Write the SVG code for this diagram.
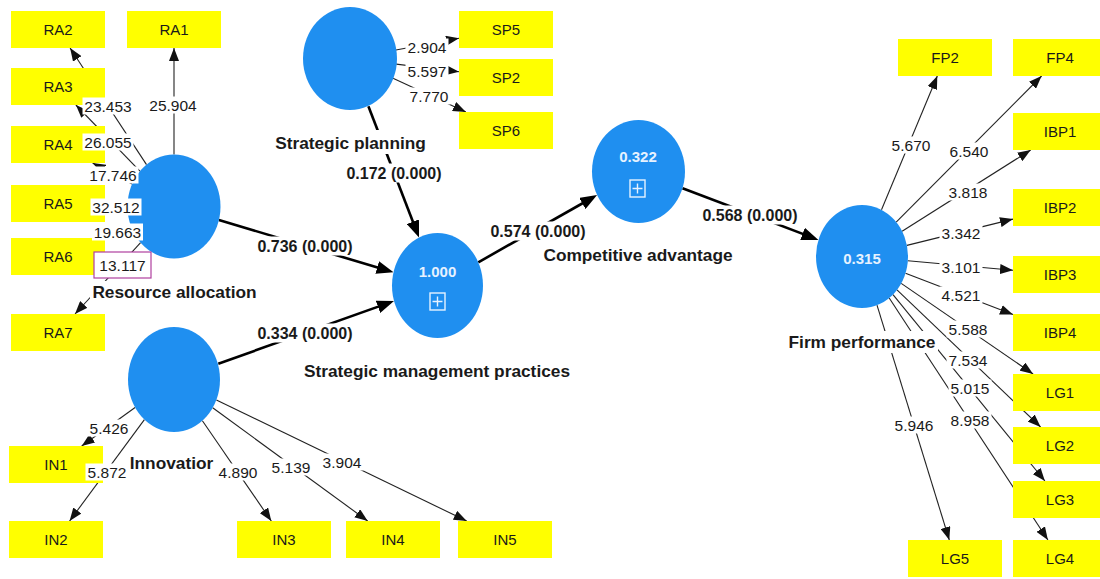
<svg xmlns="http://www.w3.org/2000/svg" width="1100" height="579" viewBox="0 0 1100 579">
<style>
.ind{fill:#ffff00}
.it{font-family:"Liberation Sans",Arial,sans-serif;font-size:15px;fill:#1a1a1a;text-anchor:middle}
.lv{fill:#1f8ff0}
.cap{font-family:"Liberation Sans",Arial,sans-serif;font-size:17.3px;font-weight:bold;fill:#1a1a1a;text-anchor:middle}
.val{font-family:"Liberation Sans",Arial,sans-serif;font-size:15px;font-weight:bold;fill:#e6f2ff;text-anchor:middle}
.icon{fill:none;stroke:#e6f2ff;stroke-width:1.4}
.bg{fill:#ffffff}
.il{stroke:#222;stroke-width:1.1;fill:none;marker-end:url(#a1)}
.pl{stroke:#000;stroke-width:2.6;fill:none;marker-end:url(#a2)}
.nl{font-family:"Liberation Sans",Arial,sans-serif;font-size:15.5px;fill:#1a1a1a;text-anchor:middle}
.pn{font-family:"Liberation Sans",Arial,sans-serif;font-size:16px;font-weight:bold;fill:#1a1a1a;text-anchor:middle}
</style>
<defs>
<marker id="a1" viewBox="0 0 13 10" refX="13" refY="5" markerWidth="13" markerHeight="10" markerUnits="userSpaceOnUse" orient="auto"><path d="M0,0L13,5L0,10z" fill="#111"/></marker>
<marker id="a2" viewBox="0 0 17 13" refX="10" refY="6.5" markerWidth="17" markerHeight="13" markerUnits="userSpaceOnUse" orient="auto"><path d="M0,0L17,6.5L0,13z" fill="#000"/></marker>
</defs>
<rect width="1100" height="579" fill="#ffffff"/>

<g id="connectors">
<line class="il" x1="174" y1="154.5" x2="174" y2="48"/>
<line class="il" x1="146.5" y1="164.6" x2="70.1" y2="48"/>
<line class="il" x1="139.9" y1="171.2" x2="75.9" y2="105"/>
<line class="il" x1="132" y1="184.1" x2="92.6" y2="163"/>
<line class="il" x1="127.6" y1="205.3" x2="105" y2="204.7"/>
<line class="il" x1="130.6" y1="225.2" x2="100.9" y2="238"/>
<line class="il" x1="140.6" y1="242.7" x2="75" y2="314"/>
<line class="il" x1="395.9" y1="50" x2="459" y2="38.2"/>
<line class="il" x1="396.2" y1="64.1" x2="459" y2="71.8"/>
<line class="il" x1="393" y1="78.3" x2="465.9" y2="112"/>
<line class="il" x1="135.1" y1="407.5" x2="81.7" y2="446"/>
<line class="il" x1="144.4" y1="419.7" x2="69.6" y2="521"/>
<line class="il" x1="202.4" y1="420.8" x2="271.3" y2="521"/>
<line class="il" x1="212.7" y1="407.8" x2="367.7" y2="521"/>
<line class="il" x1="216.4" y1="400" x2="466.7" y2="521"/>
<line class="il" x1="881.5" y1="209.8" x2="937.3" y2="76"/>
<line class="il" x1="896.2" y1="222.1" x2="1041.6" y2="76"/>
<line class="il" x1="902.1" y1="231.2" x2="1030.7" y2="150"/>
<line class="il" x1="906.9" y1="245.4" x2="1013" y2="219.1"/>
<line class="il" x1="907.8" y1="260.7" x2="1013" y2="270.2"/>
<line class="il" x1="905.5" y1="273.2" x2="1013" y2="314.5"/>
<line class="il" x1="901.2" y1="283.4" x2="1033.1" y2="374"/>
<line class="il" x1="897" y1="289.9" x2="1040.6" y2="427"/>
<line class="il" x1="893" y1="294.6" x2="1044.9" y2="481"/>
<line class="il" x1="889.2" y1="298" x2="1047.9" y2="540"/>
<line class="il" x1="877" y1="305.2" x2="949.3" y2="540"/>
<line class="pl" x1="218.9" y1="220" x2="386.8" y2="270.3"/>
<line class="pl" x1="218.3" y1="363.7" x2="387.4" y2="303.4"/>
<line class="pl" x1="368.4" y1="106.3" x2="416.5" y2="231"/>
<line class="pl" x1="478.3" y1="262.3" x2="591" y2="198.5"/>
<line class="pl" x1="682.5" y1="188.2" x2="811.9" y2="237.4"/>
</g>

<g id="RA1"><rect class="ind" x="127" y="11" width="94" height="37"/><text class="it" x="174" y="34.9">RA1</text></g>
<g id="RA2"><rect class="ind" x="11" y="11" width="94" height="37"/><text class="it" x="58" y="34.9">RA2</text></g>
<g id="RA3"><rect class="ind" x="11" y="68" width="94" height="37"/><text class="it" x="58" y="91.9">RA3</text></g>
<g id="RA4"><rect class="ind" x="11" y="126" width="94" height="37"/><text class="it" x="58" y="149.9">RA4</text></g>
<g id="RA5"><rect class="ind" x="11" y="185" width="94" height="37"/><text class="it" x="58" y="208.9">RA5</text></g>
<g id="RA6"><rect class="ind" x="11" y="238" width="94" height="37"/><text class="it" x="58" y="261.9">RA6</text></g>
<g id="RA7"><rect class="ind" x="11" y="314" width="94" height="37"/><text class="it" x="58" y="337.9">RA7</text></g>
<g id="IN1"><rect class="ind" x="9" y="446" width="94" height="37"/><text class="it" x="56" y="469.9">IN1</text></g>
<g id="IN2"><rect class="ind" x="9" y="521" width="94" height="37"/><text class="it" x="56" y="544.9">IN2</text></g>
<g id="IN3"><rect class="ind" x="237" y="521" width="94" height="37"/><text class="it" x="284" y="544.9">IN3</text></g>
<g id="IN4"><rect class="ind" x="346" y="521" width="94" height="37"/><text class="it" x="393" y="544.9">IN4</text></g>
<g id="IN5"><rect class="ind" x="458" y="521" width="94" height="37"/><text class="it" x="505" y="544.9">IN5</text></g>
<g id="SP5"><rect class="ind" x="459" y="11" width="94" height="37"/><text class="it" x="506" y="34.9">SP5</text></g>
<g id="SP2"><rect class="ind" x="459" y="59" width="94" height="37"/><text class="it" x="506" y="82.9">SP2</text></g>
<g id="SP6"><rect class="ind" x="459" y="112" width="94" height="37"/><text class="it" x="506" y="135.9">SP6</text></g>
<g id="FP2"><rect class="ind" x="898" y="39" width="94" height="37"/><text class="it" x="945" y="62.9">FP2</text></g>
<g id="FP4"><rect class="ind" x="1013" y="39" width="94" height="37"/><text class="it" x="1060" y="62.9">FP4</text></g>
<g id="IBP1"><rect class="ind" x="1013" y="113" width="94" height="37"/><text class="it" x="1060" y="136.9">IBP1</text></g>
<g id="IBP2"><rect class="ind" x="1013" y="189" width="94" height="37"/><text class="it" x="1060" y="212.9">IBP2</text></g>
<g id="IBP3"><rect class="ind" x="1013" y="256" width="94" height="37"/><text class="it" x="1060" y="279.9">IBP3</text></g>
<g id="IBP4"><rect class="ind" x="1013" y="314" width="94" height="37"/><text class="it" x="1060" y="337.9">IBP4</text></g>
<g id="LG1"><rect class="ind" x="1013" y="374" width="94" height="37"/><text class="it" x="1060" y="397.9">LG1</text></g>
<g id="LG2"><rect class="ind" x="1013" y="427" width="94" height="37"/><text class="it" x="1060" y="450.9">LG2</text></g>
<g id="LG3"><rect class="ind" x="1013" y="481" width="94" height="37"/><text class="it" x="1060" y="504.9">LG3</text></g>
<g id="LG4"><rect class="ind" x="1013" y="540" width="94" height="37"/><text class="it" x="1060" y="563.9">LG4</text></g>
<g id="LG5"><rect class="ind" x="908" y="540" width="94" height="37"/><text class="it" x="955" y="563.9">LG5</text></g>

<g id="resource-allocation"><ellipse class="lv" cx="174" cy="206.5" rx="46.5" ry="52"/><rect class="bg" x="90" y="281" width="169" height="22"/><text class="cap" x="174.5" y="298">Resource allocation</text></g>
<g id="strategic-planning"><ellipse class="lv" cx="350" cy="58.5" rx="47" ry="51.5"/><rect class="bg" x="273" y="130" width="155" height="24"/><text class="cap" x="350.5" y="149">Strategic planning</text></g>
<g id="innovation"><ellipse class="lv" cx="174" cy="379.5" rx="46" ry="52.5"/><rect class="bg" x="129" y="452" width="86" height="22"/><text class="cap" x="171.5" y="469">Innovatior</text></g>
<g id="strategic-management-practices"><ellipse class="lv" cx="437.5" cy="285.5" rx="45.5" ry="52.5"/><text class="val" x="437.5" y="277.4">1.000</text><rect class="icon" x="430" y="293" width="15" height="17"/><path class="icon" d="M437.5,296.5v10M432.5,301.5h10"/><rect class="bg" x="301" y="360" width="272" height="22"/><text class="cap" x="437" y="377">Strategic management practices</text></g>
<g id="competitive-advantage"><ellipse class="lv" cx="638.5" cy="171.5" rx="46.5" ry="51.5"/><text class="val" x="638" y="162.4">0.322</text><rect class="icon" x="630" y="180" width="15" height="17"/><path class="icon" d="M637.5,183.5v10M632.5,188.5h10"/><rect class="bg" x="541" y="244" width="194" height="22"/><text class="cap" x="638" y="261">Competitive advantage</text></g>
<g id="firm-performance"><ellipse class="lv" cx="862" cy="256.5" rx="46" ry="51.5"/><text class="val" x="862" y="264.4">0.315</text><rect class="bg" x="786" y="331" width="152" height="22"/><text class="cap" x="862" y="348">Firm performance</text></g>

<g id="connector-labels">
<rect class="bg" x="147.5" y="96.5" width="51" height="17"/><text class="nl" x="173" y="110.5">25.904</text>
<rect class="bg" x="82.5" y="97.5" width="51" height="17"/><text class="nl" x="108" y="111.5">23.453</text>
<rect class="bg" x="82.5" y="133.5" width="51" height="17"/><text class="nl" x="108" y="147.5">26.055</text>
<rect class="bg" x="87.5" y="166.5" width="51" height="17"/><text class="nl" x="113" y="180.5">17.746</text>
<rect class="bg" x="90.5" y="198.5" width="51" height="17"/><text class="nl" x="116" y="212.5">32.512</text>
<rect class="bg" x="92" y="223.5" width="51" height="17"/><text class="nl" x="117.5" y="237.5">19.663</text>
<rect x="94" y="252" width="57" height="26" fill="#ffffff" stroke="#b0409f" stroke-width="1.2"/><text class="nl" x="122.5" y="270.5">13.117</text>
<rect class="bg" x="405.5" y="38.5" width="43" height="17"/><text class="nl" x="427" y="52.5">2.904</text>
<rect class="bg" x="405.5" y="62.5" width="43" height="17"/><text class="nl" x="427" y="76.5">5.597</text>
<rect class="bg" x="407.5" y="87.5" width="43" height="17"/><text class="nl" x="429" y="101.5">7.770</text>
<rect class="bg" x="87.5" y="419.5" width="43" height="17"/><text class="nl" x="109" y="433.5">5.426</text>
<rect class="bg" x="85.5" y="463.5" width="43" height="17"/><text class="nl" x="107" y="477.5">5.872</text>
<rect class="bg" x="216.5" y="463.5" width="43" height="17"/><text class="nl" x="238" y="477.5">4.890</text>
<rect class="bg" x="269.5" y="458.5" width="43" height="17"/><text class="nl" x="291" y="472.5">5.139</text>
<rect class="bg" x="320.5" y="453.5" width="43" height="17"/><text class="nl" x="342" y="467.5">3.904</text>
<rect class="bg" x="889.5" y="136.5" width="43" height="17"/><text class="nl" x="911" y="150.5">5.670</text>
<rect class="bg" x="947.5" y="142.5" width="43" height="17"/><text class="nl" x="969" y="156.5">6.540</text>
<rect class="bg" x="946.5" y="183.5" width="43" height="17"/><text class="nl" x="968" y="197.5">3.818</text>
<rect class="bg" x="939.5" y="224.5" width="43" height="17"/><text class="nl" x="961" y="238.5">3.342</text>
<rect class="bg" x="939.5" y="258.5" width="43" height="17"/><text class="nl" x="961" y="272.5">3.101</text>
<rect class="bg" x="939.5" y="286.5" width="43" height="17"/><text class="nl" x="961" y="300.5">4.521</text>
<rect class="bg" x="946.5" y="320.5" width="43" height="17"/><text class="nl" x="968" y="334.5">5.588</text>
<rect class="bg" x="946.5" y="351.5" width="43" height="17"/><text class="nl" x="968" y="365.5">7.534</text>
<rect class="bg" x="948.5" y="379.5" width="43" height="17"/><text class="nl" x="970" y="393.5">5.015</text>
<rect class="bg" x="948.5" y="411.5" width="43" height="17"/><text class="nl" x="970" y="425.5">8.958</text>
<rect class="bg" x="892.5" y="416.5" width="43" height="17"/><text class="nl" x="914" y="430.5">5.946</text>
<rect class="bg" x="344.5" y="163.5" width="99" height="19"/><text class="pn" x="394" y="178.7">0.172 (0.000)</text>
<rect class="bg" x="255.5" y="236.5" width="99" height="19"/><text class="pn" x="305" y="251.7">0.736 (0.000)</text>
<rect class="bg" x="255.5" y="323.5" width="99" height="19"/><text class="pn" x="305" y="338.7">0.334 (0.000)</text>
<rect class="bg" x="488.5" y="221.5" width="99" height="19"/><text class="pn" x="538" y="236.7">0.574 (0.000)</text>
<rect class="bg" x="700.5" y="205.5" width="99" height="19"/><text class="pn" x="750" y="220.7">0.568 (0.000)</text>
</g>
</svg>
